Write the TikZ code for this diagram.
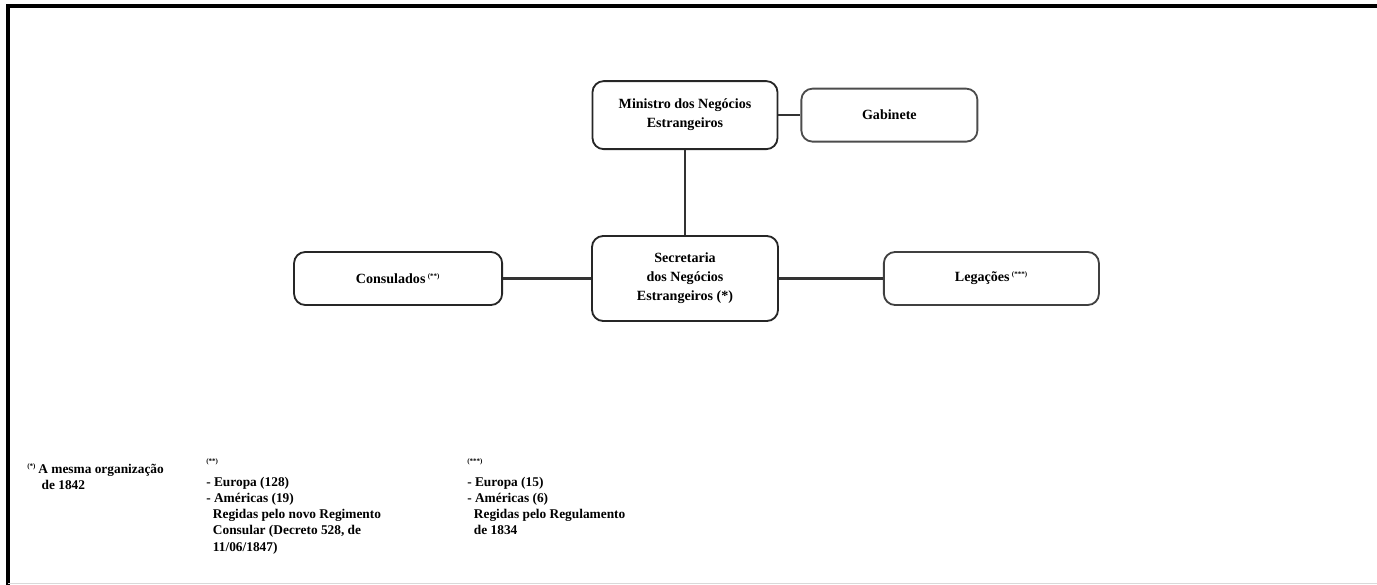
\documentclass[tikz,border=0pt]{standalone}
\usepackage{fontspec}
\setmainfont{Liberation Serif}
\usetikzlibrary{positioning}

\begin{document}
\begin{tikzpicture}[x=0.025cm,y=-0.025cm,node distance=2cm]
  \tikzstyle{unit}=[rectangle,rounded corners=2.8mm,line width=1.3pt,draw=black!85,align=center,inner sep=2pt,font={\bfseries\fontsize{10}{13.5}\selectfont}]
  \tikzstyle{note}=[anchor=north west,align=left,inner sep=0pt,font={\bfseries\fontsize{9.5}{11.5}\selectfont}]
  \tikzstyle{link}=[line width=1.8pt,draw=black!80]
  \useasboundingbox (0,0) rectangle (1377,585);

  % frame
  \draw [line width=2.8pt] (8,585) -- (8,6) -- (1377,6);
  \draw [black!15,line width=0.6pt] (8,583) -- (1377,583);

  \begin{scope}
    % boxes
    \node [unit,minimum width=4.65cm,minimum height=2.125cm] (Sec) at (685,278.5)
      {Secretaria\\dos Negócios\\Estrangeiros (*)};
    \node [unit,minimum width=4.625cm,minimum height=1.7cm] (Min) [above = 2.125cm of Sec]
      {Ministro dos Negócios\\Estrangeiros};
    \node [unit,minimum width=4.4cm,minimum height=1.325cm,draw=black!70] (Gab) [right = 0.55cm of Min] {Gabinete};
    \node [unit,minimum width=5.2cm,minimum height=1.325cm] (Cons) [left = 2.2cm of Sec]
      {Consulados\,\textsuperscript{\tiny (**)}};
    \node [unit,minimum width=5.375cm,minimum height=1.325cm,draw=black!75] (Leg) [right = 2.6cm of Sec]
      {Legações\,\textsuperscript{\tiny (***)}};
  \end{scope}

  \begin{scope}
    \draw [link] (Min) -- (Gab);
    \draw [link,line width=1.3pt] (Min) -- (Sec);
    \draw [link] (Cons) -- (Sec);
    \draw [link] (Sec) -- (Leg);
  \end{scope}

  % notes
  \node [note] (note1) at (27,463)
    {\textsuperscript{\tiny (*)}\,A mesma organização\\\hspace*{3.6mm}de 1842};
  \node [note] (note2) at (206,458)
    {{\tiny (**)}\\[5pt]
     - Europa (128)\\
     - Américas (19)\\
     \phantom{-\,}Regidas pelo novo Regimento\\
     \phantom{-\,}Consular (Decreto 528, de\\
     \phantom{-\,}11/06/1847)};
  \node [note] (note3) at (467,458)
    {{\tiny (***)}\\[5pt]
     - Europa (15)\\
     - Américas (6)\\
     \phantom{-\,}Regidas pelo Regulamento\\
     \phantom{-\,}de 1834};
\end{tikzpicture}
\end{document}
